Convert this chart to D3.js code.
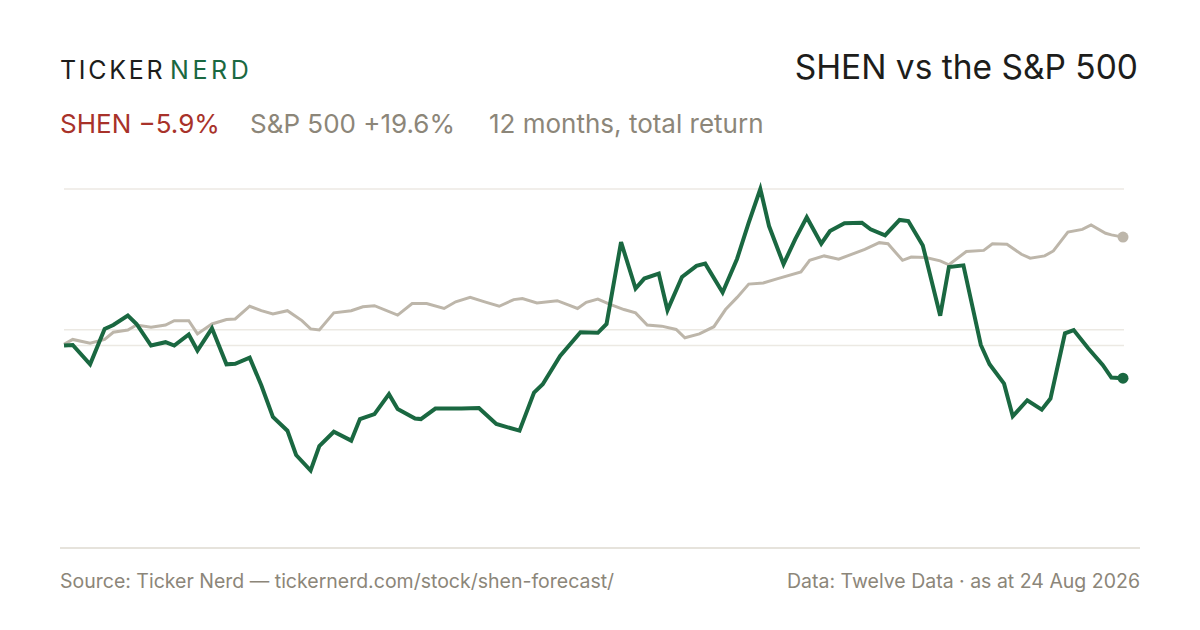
<!DOCTYPE html>
<html lang="en">
<head>
<meta charset="UTF-8">
<title>SHEN vs the S&amp;P 500</title>
<style>
  body { margin: 0; background: #fff; }
  svg { display: block; font-family: Inter, "Noto Sans", sans-serif; }
</style>
</head>
<body>
<div id="chart"></div>
<script src="https://cdn.jsdelivr.net/npm/d3@7"></script>
<script>
// days since 24 Aug 2025 and total return in %
const shenDays = [0,3,9,14,17,22,25,30,35,38,43,46,51,56,59,64,68,72,77,80,85,88,93,99,102,107,112,115,121,123,128,137,143,149,157,162,165,171,178,184,187,192,197,200,205,208,213,218,221,227,232,236,240,243,248,252,256,261,264,269,275,278,283,288,291,296,302,305,310,316,319,324,327,332,337,340,345,348,353,358,361,365];
const shenPct = [0.0,0.1,-3.4,3.0,3.7,5.4,3.9,0.0,0.6,0.0,2.0,-0.9,3.1,-3.4,-3.3,-2.2,-7.2,-12.9,-15.4,-19.8,-22.6,-18.2,-15.6,-17.2,-13.3,-12.4,-8.8,-11.5,-13.2,-13.3,-11.4,-11.4,-11.3,-14.2,-15.4,-8.5,-7.0,-1.9,2.4,2.3,3.9,18.7,10.3,12.1,13.0,6.4,12.4,14.4,14.8,9.6,15.7,22.2,28.3,21.6,14.7,19.2,23.2,18.4,20.7,22.1,22.2,21.0,19.9,22.7,22.5,18.1,5.4,14.2,14.5,0.1,-3.4,-6.9,-12.8,-9.9,-11.6,-9.6,2.2,2.8,-0.5,-3.5,-5.8,-5.9];
const spxDays = [0,3,9,14,17,22,25,30,35,38,43,46,51,56,59,64,68,72,77,82,85,88,93,99,103,107,115,120,125,131,135,140,145,150,155,158,163,170,174,177,180,184,188,193,197,201,206,211,214,219,224,228,232,236,241,246,254,257,262,267,276,281,284,289,292,297,302,305,311,317,320,325,330,333,338,341,346,351,354,359,361,365];
const spxPct = [0.2,1.1,0.4,1.1,2.4,2.8,3.7,3.3,3.7,4.5,4.5,2.1,3.9,4.7,4.8,7.1,6.3,5.7,6.3,4.5,3.0,2.8,5.9,6.3,7.0,7.2,5.5,7.6,7.6,6.7,7.9,8.7,7.9,7.1,8.3,8.5,7.7,8.1,7.3,6.7,7.8,8.4,7.5,6.5,5.9,3.7,3.5,2.9,1.4,2.1,3.4,6.5,8.7,11.1,11.3,12.1,13.3,15.4,16.2,15.6,17.4,18.6,18.4,15.4,16.0,15.9,15.3,14.6,17.0,17.2,18.4,18.3,16.5,15.8,16.2,17.1,20.5,21.0,21.8,20.3,20.0,19.6];

const startDate = new Date(2025, 7, 24);
const endDate = d3.timeDay.offset(startDate, 365);

const green = "#1a6841", grey = "#bdb6aa", red = "#a8322a", muted = "#8c8679";

const shen = shenDays.map((d, i) => ({ date: d3.timeDay.offset(startDate, d), v: shenPct[i] }));
const spx = spxDays.map((d, i) => ({ date: d3.timeDay.offset(startDate, d), v: spxPct[i] }));

const width = 1200, height = 630;
const svg = d3.select("#chart").append("svg")
    .attr("width", width)
    .attr("height", height);

const x = d3.scaleTime()
    .domain([startDate, endDate])
    .range([64, 1123]);

const y = d3.scaleLinear()
    .domain(d3.extent(shenPct.concat(spxPct)))
    .range([470.5, 189]);

// grid: top of range, middle of range, and the zero line
const [lo, hi] = y.domain();
const gridValues = [hi, (lo + hi) / 2, 0];
svg.append("g")
    .selectAll("line")
    .data(gridValues)
    .enter().append("line")
    .attr("x1", 64)
    .attr("x2", 1124)
    .attr("y1", d => y(d))
    .attr("y2", d => y(d))
    .attr("stroke", "#ece9e3")
    .attr("stroke-width", 1.5);

const line = d3.line()
    .x(d => x(d.date))
    .y(d => y(d.v));

svg.append("path")
    .datum(spx)
    .attr("fill", "none")
    .attr("stroke", grey)
    .attr("stroke-width", 3)
    .attr("d", line);

svg.append("path")
    .datum(shen)
    .attr("fill", "none")
    .attr("stroke", green)
    .attr("stroke-width", 4)
    .attr("d", line);

// end dots
svg.append("circle")
    .attr("cx", x(spx[spx.length - 1].date))
    .attr("cy", y(spx[spx.length - 1].v))
    .attr("r", 5.5)
    .attr("fill", grey);
svg.append("circle")
    .attr("cx", x(shen[shen.length - 1].date))
    .attr("cy", y(shen[shen.length - 1].v))
    .attr("r", 5.5)
    .attr("fill", green);

// header
svg.append("text")
    .attr("x", 60).attr("y", 79)
    .attr("font-size", 25)
    .attr("letter-spacing", 2.7)
    .attr("fill", "#1d1d1b")
    .text("TICKER");
svg.append("text")
    .attr("x", 170).attr("y", 79)
    .attr("font-size", 25)
    .attr("letter-spacing", 3.6)
    .attr("fill", green)
    .text("NERD");

svg.append("text")
    .attr("x", 1138).attr("y", 79)
    .attr("text-anchor", "end")
    .attr("font-size", 33.5)
    .attr("fill", "#1d1d1b")
    .text("SHEN vs the S&P 500");

const sub = [
    { x: 60, text: "SHEN \u22125.9%", color: red },
    { x: 250, text: "S&P 500 +19.6%", color: muted },
    { x: 489, text: "12 months, total return", color: muted }
];
svg.append("g")
    .selectAll("text")
    .data(sub)
    .enter().append("text")
    .attr("x", d => d.x)
    .attr("y", 133)
    .attr("font-size", 26)
    .attr("fill", d => d.color)
    .text(d => d.text);

// footer
svg.append("line")
    .attr("x1", 60).attr("x2", 1140)
    .attr("y1", 548).attr("y2", 548)
    .attr("stroke", "#dedad1")
    .attr("stroke-width", 1.5);

svg.append("text")
    .attr("x", 60).attr("y", 588)
    .attr("font-size", 19.5)
    .attr("fill", muted)
    .text("Source: Ticker Nerd \u2014 tickernerd.com/stock/shen-forecast/");
svg.append("text")
    .attr("x", 1140).attr("y", 588)
    .attr("text-anchor", "end")
    .attr("font-size", 19.5)
    .attr("fill", muted)
    .text("Data: Twelve Data \u00b7 as at 24 Aug 2026");
</script>
</body>
</html>
